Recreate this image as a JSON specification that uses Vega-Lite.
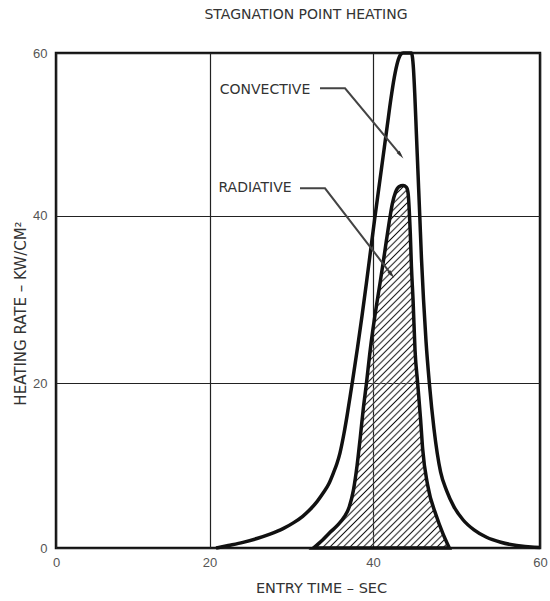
{
  "$schema": "https://vega.github.io/schema/vega-lite/v6.json",
  "autosize": "none",
  "width": 484,
  "height": 495,
  "padding": {"left": 56, "top": 53, "right": 10, "bottom": 53},
  "background": "white",
  "title": {"text": "STAGNATION POINT HEATING", "font": "DejaVu Sans", "fontSize": 14, "fontWeight": "normal", "color": "#333", "offset": 24, "dx": 8, "anchor": "middle"},
  "config": {
    "view": {"stroke": "#111", "strokeWidth": 2.5, "fill": "white"}
  },
  "datasets": {
    "curves": [
      {"series": "convective", "x": 20.8, "y": 0},
      {"series": "convective", "x": 22.3, "y": 0.3},
      {"series": "convective", "x": 24.1, "y": 0.68},
      {"series": "convective", "x": 25.8, "y": 1.15},
      {"series": "convective", "x": 27.4, "y": 1.68},
      {"series": "convective", "x": 29.0, "y": 2.35},
      {"series": "convective", "x": 30.3, "y": 3.08},
      {"series": "convective", "x": 31.4, "y": 3.85},
      {"series": "convective", "x": 32.3, "y": 4.67},
      {"series": "convective", "x": 33.2, "y": 5.7},
      {"series": "convective", "x": 33.9, "y": 6.67},
      {"series": "convective", "x": 34.6, "y": 7.8},
      {"series": "convective", "x": 35.15, "y": 9.1},
      {"series": "convective", "x": 35.6, "y": 10.3},
      {"series": "convective", "x": 35.95, "y": 11.5},
      {"series": "convective", "x": 36.45, "y": 13.9},
      {"series": "convective", "x": 36.85, "y": 16.2},
      {"series": "convective", "x": 37.2, "y": 18.4},
      {"series": "convective", "x": 37.5, "y": 20.3},
      {"series": "convective", "x": 38.1, "y": 24.2},
      {"series": "convective", "x": 38.65, "y": 28},
      {"series": "convective", "x": 39.2, "y": 32},
      {"series": "convective", "x": 39.7, "y": 35.8},
      {"series": "convective", "x": 40.2, "y": 39.6},
      {"series": "convective", "x": 40.7, "y": 43.4},
      {"series": "convective", "x": 41.2, "y": 47.2},
      {"series": "convective", "x": 41.7, "y": 51},
      {"series": "convective", "x": 42.15, "y": 54.4},
      {"series": "convective", "x": 42.55, "y": 57},
      {"series": "convective", "x": 42.95, "y": 58.9},
      {"series": "convective", "x": 43.3, "y": 59.8},
      {"series": "convective", "x": 43.6, "y": 60},
      {"series": "convective", "x": 44.6, "y": 60},
      {"series": "convective", "x": 44.85, "y": 58},
      {"series": "convective", "x": 45.0, "y": 55},
      {"series": "convective", "x": 45.2, "y": 50},
      {"series": "convective", "x": 45.4, "y": 45},
      {"series": "convective", "x": 45.6, "y": 40},
      {"series": "convective", "x": 45.8, "y": 35},
      {"series": "convective", "x": 46.05, "y": 30},
      {"series": "convective", "x": 46.35, "y": 25},
      {"series": "convective", "x": 46.75, "y": 20},
      {"series": "convective", "x": 47.3, "y": 14.5},
      {"series": "convective", "x": 48.1, "y": 9.2},
      {"series": "convective", "x": 48.8, "y": 7},
      {"series": "convective", "x": 49.7, "y": 5},
      {"series": "convective", "x": 50.8, "y": 3.4},
      {"series": "convective", "x": 52.1, "y": 2.2},
      {"series": "convective", "x": 53.6, "y": 1.3},
      {"series": "convective", "x": 55.3, "y": 0.7},
      {"series": "convective", "x": 57.2, "y": 0.3},
      {"series": "convective", "x": 59.3, "y": 0.08},
      {"series": "convective", "x": 60, "y": 0.05},
      {"series": "radiative", "x": 32.7, "y": 0},
      {"series": "radiative", "x": 33.8, "y": 0.95},
      {"series": "radiative", "x": 34.75, "y": 1.9},
      {"series": "radiative", "x": 35.7, "y": 2.8},
      {"series": "radiative", "x": 36.5, "y": 3.8},
      {"series": "radiative", "x": 37.1, "y": 5.0},
      {"series": "radiative", "x": 37.6, "y": 7.0},
      {"series": "radiative", "x": 38.05, "y": 10},
      {"series": "radiative", "x": 38.45, "y": 13.5},
      {"series": "radiative", "x": 38.8, "y": 16.8},
      {"series": "radiative", "x": 39.2, "y": 20},
      {"series": "radiative", "x": 39.6, "y": 23.5},
      {"series": "radiative", "x": 40.0, "y": 26.5},
      {"series": "radiative", "x": 40.45, "y": 29.5},
      {"series": "radiative", "x": 40.85, "y": 32},
      {"series": "radiative", "x": 41.2, "y": 34.3},
      {"series": "radiative", "x": 41.6, "y": 37},
      {"series": "radiative", "x": 41.95, "y": 39.3},
      {"series": "radiative", "x": 42.3, "y": 41.4},
      {"series": "radiative", "x": 42.7, "y": 42.9},
      {"series": "radiative", "x": 43.1, "y": 43.55},
      {"series": "radiative", "x": 43.6, "y": 43.7},
      {"series": "radiative", "x": 44.0, "y": 43.5},
      {"series": "radiative", "x": 44.2, "y": 42.8},
      {"series": "radiative", "x": 44.35, "y": 40.5},
      {"series": "radiative", "x": 44.47, "y": 37.8},
      {"series": "radiative", "x": 44.6, "y": 34},
      {"series": "radiative", "x": 44.8, "y": 29.9},
      {"series": "radiative", "x": 45.03, "y": 24},
      {"series": "radiative", "x": 45.35, "y": 20},
      {"series": "radiative", "x": 45.7, "y": 15.6},
      {"series": "radiative", "x": 45.95, "y": 12},
      {"series": "radiative", "x": 46.55, "y": 7.6},
      {"series": "radiative", "x": 47.55, "y": 4.0},
      {"series": "radiative", "x": 48.35, "y": 1.8},
      {"series": "radiative", "x": 49.14, "y": 0}
    ],
    "leaders": [
      {"grp": "convective", "ord": 1, "x": 33.52, "y": 55.66},
      {"grp": "convective", "ord": 2, "x": 36.58, "y": 55.66},
      {"grp": "convective", "ord": 3, "x": 43.32, "y": 47.44},
      {"grp": "radiative", "ord": 1, "x": 31.07, "y": 43.37},
      {"grp": "radiative", "ord": 2, "x": 34.13, "y": 43.37},
      {"grp": "radiative", "ord": 3, "x": 42.23, "y": 32.95}
    ],
    "arrows": [
      {"grp": "convective", "x": 43.32, "y": 47.44},
      {"grp": "radiative", "x": 42.23, "y": 32.95}
    ],
    "labels": [
      {"label": "CONVECTIVE", "x": 26.79, "y": 55.45},
      {"label": "RADIATIVE", "x": 25.57, "y": 43.37}
    ]
  },
  "encoding": {
    "x": {
      "field": "x", "type": "quantitative",
      "scale": {"domain": [0, 20, 40, 60], "range": [0, 153.5, 317, 484], "nice": false, "zero": false},
      "axis": {
        "values": [0, 20, 40, 60], "grid": true, "gridColor": "#222", "gridWidth": 1.2,
        "domain": false, "ticks": false, "labelFlush": false,
        "labelFont": "Liberation Sans", "labelFontSize": 13, "labelColor": "#555", "labelPadding": 8,
        "title": "ENTRY TIME – SEC", "titleFont": "DejaVu Sans", "titleFontSize": 14.5, "titleFontWeight": "normal",
        "titleColor": "#333", "titleX": 265, "titleY": 40, "titleBaseline": "middle", "titleAlign": "center"
      }
    },
    "y": {
      "field": "y", "type": "quantitative",
      "scale": {"domain": [0, 20, 40, 60], "range": [495, 330.3, 162.7, 0], "nice": false, "zero": false},
      "axis": {
        "values": [0, 20, 40, 60], "grid": true, "gridColor": "#222", "gridWidth": 1.2,
        "domain": false, "ticks": false, "labelFlush": false,
        "labelFont": "Liberation Sans", "labelFontSize": 13, "labelColor": "#555", "labelPadding": 9,
        "title": "HEATING RATE – KW/CM²", "titleFont": "DejaVu Sans", "titleFontSize": 15, "titleFontWeight": "normal",
        "titleColor": "#333", "titleX": -36, "titleY": 260, "titleAngle": 270, "titleBaseline": "middle", "titleAlign": "center"
      }
    }
  },
  "layer": [
    {
      "data": {"name": "curves"},
      "transform": [{"filter": "datum.series == 'radiative'"}],
      "mark": {
        "type": "area", "interpolate": "monotone", "stroke": "#111", "strokeWidth": 3.5,
        "fill": {
          "gradient": "linear", "x1": 0, "y1": 0, "x2": 0.484, "y2": 1.293,
          "stops": [
            {"offset": 0.0035, "color": "rgba(255,255,255,0)"}, {"offset": 0.0075, "color": "#111"}, {"offset": 0.0115, "color": "rgba(255,255,255,0)"},
            {"offset": 0.016, "color": "rgba(255,255,255,0)"}, {"offset": 0.02, "color": "#111"}, {"offset": 0.024, "color": "rgba(255,255,255,0)"},
            {"offset": 0.0285, "color": "rgba(255,255,255,0)"}, {"offset": 0.0325, "color": "#111"}, {"offset": 0.0365, "color": "rgba(255,255,255,0)"},
            {"offset": 0.041, "color": "rgba(255,255,255,0)"}, {"offset": 0.045, "color": "#111"}, {"offset": 0.049, "color": "rgba(255,255,255,0)"},
            {"offset": 0.0535, "color": "rgba(255,255,255,0)"}, {"offset": 0.0575, "color": "#111"}, {"offset": 0.0615, "color": "rgba(255,255,255,0)"},
            {"offset": 0.066, "color": "rgba(255,255,255,0)"}, {"offset": 0.07, "color": "#111"}, {"offset": 0.074, "color": "rgba(255,255,255,0)"},
            {"offset": 0.0785, "color": "rgba(255,255,255,0)"}, {"offset": 0.0825, "color": "#111"}, {"offset": 0.0865, "color": "rgba(255,255,255,0)"},
            {"offset": 0.091, "color": "rgba(255,255,255,0)"}, {"offset": 0.095, "color": "#111"}, {"offset": 0.099, "color": "rgba(255,255,255,0)"},
            {"offset": 0.1035, "color": "rgba(255,255,255,0)"}, {"offset": 0.1075, "color": "#111"}, {"offset": 0.1115, "color": "rgba(255,255,255,0)"},
            {"offset": 0.116, "color": "rgba(255,255,255,0)"}, {"offset": 0.12, "color": "#111"}, {"offset": 0.124, "color": "rgba(255,255,255,0)"},
            {"offset": 0.1285, "color": "rgba(255,255,255,0)"}, {"offset": 0.1325, "color": "#111"}, {"offset": 0.1365, "color": "rgba(255,255,255,0)"},
            {"offset": 0.141, "color": "rgba(255,255,255,0)"}, {"offset": 0.145, "color": "#111"}, {"offset": 0.149, "color": "rgba(255,255,255,0)"},
            {"offset": 0.1535, "color": "rgba(255,255,255,0)"}, {"offset": 0.1575, "color": "#111"}, {"offset": 0.1615, "color": "rgba(255,255,255,0)"},
            {"offset": 0.166, "color": "rgba(255,255,255,0)"}, {"offset": 0.17, "color": "#111"}, {"offset": 0.174, "color": "rgba(255,255,255,0)"},
            {"offset": 0.1785, "color": "rgba(255,255,255,0)"}, {"offset": 0.1825, "color": "#111"}, {"offset": 0.1865, "color": "rgba(255,255,255,0)"},
            {"offset": 0.191, "color": "rgba(255,255,255,0)"}, {"offset": 0.195, "color": "#111"}, {"offset": 0.199, "color": "rgba(255,255,255,0)"},
            {"offset": 0.2035, "color": "rgba(255,255,255,0)"}, {"offset": 0.2075, "color": "#111"}, {"offset": 0.2115, "color": "rgba(255,255,255,0)"},
            {"offset": 0.216, "color": "rgba(255,255,255,0)"}, {"offset": 0.22, "color": "#111"}, {"offset": 0.224, "color": "rgba(255,255,255,0)"},
            {"offset": 0.2285, "color": "rgba(255,255,255,0)"}, {"offset": 0.2325, "color": "#111"}, {"offset": 0.2365, "color": "rgba(255,255,255,0)"},
            {"offset": 0.241, "color": "rgba(255,255,255,0)"}, {"offset": 0.245, "color": "#111"}, {"offset": 0.249, "color": "rgba(255,255,255,0)"},
            {"offset": 0.2535, "color": "rgba(255,255,255,0)"}, {"offset": 0.2575, "color": "#111"}, {"offset": 0.2615, "color": "rgba(255,255,255,0)"},
            {"offset": 0.266, "color": "rgba(255,255,255,0)"}, {"offset": 0.27, "color": "#111"}, {"offset": 0.274, "color": "rgba(255,255,255,0)"},
            {"offset": 0.2785, "color": "rgba(255,255,255,0)"}, {"offset": 0.2825, "color": "#111"}, {"offset": 0.2865, "color": "rgba(255,255,255,0)"},
            {"offset": 0.291, "color": "rgba(255,255,255,0)"}, {"offset": 0.295, "color": "#111"}, {"offset": 0.299, "color": "rgba(255,255,255,0)"},
            {"offset": 0.3035, "color": "rgba(255,255,255,0)"}, {"offset": 0.3075, "color": "#111"}, {"offset": 0.3115, "color": "rgba(255,255,255,0)"},
            {"offset": 0.316, "color": "rgba(255,255,255,0)"}, {"offset": 0.32, "color": "#111"}, {"offset": 0.324, "color": "rgba(255,255,255,0)"},
            {"offset": 0.3285, "color": "rgba(255,255,255,0)"}, {"offset": 0.3325, "color": "#111"}, {"offset": 0.3365, "color": "rgba(255,255,255,0)"},
            {"offset": 0.341, "color": "rgba(255,255,255,0)"}, {"offset": 0.345, "color": "#111"}, {"offset": 0.349, "color": "rgba(255,255,255,0)"},
            {"offset": 0.3535, "color": "rgba(255,255,255,0)"}, {"offset": 0.3575, "color": "#111"}, {"offset": 0.3615, "color": "rgba(255,255,255,0)"},
            {"offset": 0.366, "color": "rgba(255,255,255,0)"}, {"offset": 0.37, "color": "#111"}, {"offset": 0.374, "color": "rgba(255,255,255,0)"},
            {"offset": 0.3785, "color": "rgba(255,255,255,0)"}, {"offset": 0.3825, "color": "#111"}, {"offset": 0.3865, "color": "rgba(255,255,255,0)"},
            {"offset": 0.391, "color": "rgba(255,255,255,0)"}, {"offset": 0.395, "color": "#111"}, {"offset": 0.399, "color": "rgba(255,255,255,0)"},
            {"offset": 0.4035, "color": "rgba(255,255,255,0)"}, {"offset": 0.4075, "color": "#111"}, {"offset": 0.4115, "color": "rgba(255,255,255,0)"},
            {"offset": 0.416, "color": "rgba(255,255,255,0)"}, {"offset": 0.42, "color": "#111"}, {"offset": 0.424, "color": "rgba(255,255,255,0)"},
            {"offset": 0.4285, "color": "rgba(255,255,255,0)"}, {"offset": 0.4325, "color": "#111"}, {"offset": 0.4365, "color": "rgba(255,255,255,0)"},
            {"offset": 0.441, "color": "rgba(255,255,255,0)"}, {"offset": 0.445, "color": "#111"}, {"offset": 0.449, "color": "rgba(255,255,255,0)"},
            {"offset": 0.4535, "color": "rgba(255,255,255,0)"}, {"offset": 0.4575, "color": "#111"}, {"offset": 0.4615, "color": "rgba(255,255,255,0)"},
            {"offset": 0.466, "color": "rgba(255,255,255,0)"}, {"offset": 0.47, "color": "#111"}, {"offset": 0.474, "color": "rgba(255,255,255,0)"},
            {"offset": 0.4785, "color": "rgba(255,255,255,0)"}, {"offset": 0.4825, "color": "#111"}, {"offset": 0.4865, "color": "rgba(255,255,255,0)"},
            {"offset": 0.491, "color": "rgba(255,255,255,0)"}, {"offset": 0.495, "color": "#111"}, {"offset": 0.499, "color": "rgba(255,255,255,0)"},
            {"offset": 0.5035, "color": "rgba(255,255,255,0)"}, {"offset": 0.5075, "color": "#111"}, {"offset": 0.5115, "color": "rgba(255,255,255,0)"},
            {"offset": 0.516, "color": "rgba(255,255,255,0)"}, {"offset": 0.52, "color": "#111"}, {"offset": 0.524, "color": "rgba(255,255,255,0)"},
            {"offset": 0.5285, "color": "rgba(255,255,255,0)"}, {"offset": 0.5325, "color": "#111"}, {"offset": 0.5365, "color": "rgba(255,255,255,0)"},
            {"offset": 0.541, "color": "rgba(255,255,255,0)"}, {"offset": 0.545, "color": "#111"}, {"offset": 0.549, "color": "rgba(255,255,255,0)"},
            {"offset": 0.5535, "color": "rgba(255,255,255,0)"}, {"offset": 0.5575, "color": "#111"}, {"offset": 0.5615, "color": "rgba(255,255,255,0)"},
            {"offset": 0.566, "color": "rgba(255,255,255,0)"}, {"offset": 0.57, "color": "#111"}, {"offset": 0.574, "color": "rgba(255,255,255,0)"},
            {"offset": 0.5785, "color": "rgba(255,255,255,0)"}, {"offset": 0.5825, "color": "#111"}, {"offset": 0.5865, "color": "rgba(255,255,255,0)"},
            {"offset": 0.591, "color": "rgba(255,255,255,0)"}, {"offset": 0.595, "color": "#111"}, {"offset": 0.599, "color": "rgba(255,255,255,0)"},
            {"offset": 0.6035, "color": "rgba(255,255,255,0)"}, {"offset": 0.6075, "color": "#111"}, {"offset": 0.6115, "color": "rgba(255,255,255,0)"},
            {"offset": 0.616, "color": "rgba(255,255,255,0)"}, {"offset": 0.62, "color": "#111"}, {"offset": 0.624, "color": "rgba(255,255,255,0)"},
            {"offset": 0.6285, "color": "rgba(255,255,255,0)"}, {"offset": 0.6325, "color": "#111"}, {"offset": 0.6365, "color": "rgba(255,255,255,0)"},
            {"offset": 0.641, "color": "rgba(255,255,255,0)"}, {"offset": 0.645, "color": "#111"}, {"offset": 0.649, "color": "rgba(255,255,255,0)"},
            {"offset": 0.6535, "color": "rgba(255,255,255,0)"}, {"offset": 0.6575, "color": "#111"}, {"offset": 0.6615, "color": "rgba(255,255,255,0)"},
            {"offset": 0.666, "color": "rgba(255,255,255,0)"}, {"offset": 0.67, "color": "#111"}, {"offset": 0.674, "color": "rgba(255,255,255,0)"},
            {"offset": 0.6785, "color": "rgba(255,255,255,0)"}, {"offset": 0.6825, "color": "#111"}, {"offset": 0.6865, "color": "rgba(255,255,255,0)"},
            {"offset": 0.691, "color": "rgba(255,255,255,0)"}, {"offset": 0.695, "color": "#111"}, {"offset": 0.699, "color": "rgba(255,255,255,0)"},
            {"offset": 0.7035, "color": "rgba(255,255,255,0)"}, {"offset": 0.7075, "color": "#111"}, {"offset": 0.7115, "color": "rgba(255,255,255,0)"},
            {"offset": 0.716, "color": "rgba(255,255,255,0)"}, {"offset": 0.72, "color": "#111"}, {"offset": 0.724, "color": "rgba(255,255,255,0)"},
            {"offset": 0.7285, "color": "rgba(255,255,255,0)"}, {"offset": 0.7325, "color": "#111"}, {"offset": 0.7365, "color": "rgba(255,255,255,0)"},
            {"offset": 0.741, "color": "rgba(255,255,255,0)"}, {"offset": 0.745, "color": "#111"}, {"offset": 0.749, "color": "rgba(255,255,255,0)"},
            {"offset": 0.7535, "color": "rgba(255,255,255,0)"}, {"offset": 0.7575, "color": "#111"}, {"offset": 0.7615, "color": "rgba(255,255,255,0)"},
            {"offset": 0.766, "color": "rgba(255,255,255,0)"}, {"offset": 0.77, "color": "#111"}, {"offset": 0.774, "color": "rgba(255,255,255,0)"},
            {"offset": 0.7785, "color": "rgba(255,255,255,0)"}, {"offset": 0.7825, "color": "#111"}, {"offset": 0.7865, "color": "rgba(255,255,255,0)"},
            {"offset": 0.791, "color": "rgba(255,255,255,0)"}, {"offset": 0.795, "color": "#111"}, {"offset": 0.799, "color": "rgba(255,255,255,0)"},
            {"offset": 0.8035, "color": "rgba(255,255,255,0)"}, {"offset": 0.8075, "color": "#111"}, {"offset": 0.8115, "color": "rgba(255,255,255,0)"},
            {"offset": 0.816, "color": "rgba(255,255,255,0)"}, {"offset": 0.82, "color": "#111"}, {"offset": 0.824, "color": "rgba(255,255,255,0)"},
            {"offset": 0.8285, "color": "rgba(255,255,255,0)"}, {"offset": 0.8325, "color": "#111"}, {"offset": 0.8365, "color": "rgba(255,255,255,0)"},
            {"offset": 0.841, "color": "rgba(255,255,255,0)"}, {"offset": 0.845, "color": "#111"}, {"offset": 0.849, "color": "rgba(255,255,255,0)"},
            {"offset": 0.8535, "color": "rgba(255,255,255,0)"}, {"offset": 0.8575, "color": "#111"}, {"offset": 0.8615, "color": "rgba(255,255,255,0)"},
            {"offset": 0.866, "color": "rgba(255,255,255,0)"}, {"offset": 0.87, "color": "#111"}, {"offset": 0.874, "color": "rgba(255,255,255,0)"},
            {"offset": 0.8785, "color": "rgba(255,255,255,0)"}, {"offset": 0.8825, "color": "#111"}, {"offset": 0.8865, "color": "rgba(255,255,255,0)"},
            {"offset": 0.891, "color": "rgba(255,255,255,0)"}, {"offset": 0.895, "color": "#111"}, {"offset": 0.899, "color": "rgba(255,255,255,0)"},
            {"offset": 0.9035, "color": "rgba(255,255,255,0)"}, {"offset": 0.9075, "color": "#111"}, {"offset": 0.9115, "color": "rgba(255,255,255,0)"},
            {"offset": 0.916, "color": "rgba(255,255,255,0)"}, {"offset": 0.92, "color": "#111"}, {"offset": 0.924, "color": "rgba(255,255,255,0)"},
            {"offset": 0.9285, "color": "rgba(255,255,255,0)"}, {"offset": 0.9325, "color": "#111"}, {"offset": 0.9365, "color": "rgba(255,255,255,0)"},
            {"offset": 0.941, "color": "rgba(255,255,255,0)"}, {"offset": 0.945, "color": "#111"}, {"offset": 0.949, "color": "rgba(255,255,255,0)"},
            {"offset": 0.9535, "color": "rgba(255,255,255,0)"}, {"offset": 0.9575, "color": "#111"}, {"offset": 0.9615, "color": "rgba(255,255,255,0)"},
            {"offset": 0.966, "color": "rgba(255,255,255,0)"}, {"offset": 0.97, "color": "#111"}, {"offset": 0.974, "color": "rgba(255,255,255,0)"},
            {"offset": 0.9785, "color": "rgba(255,255,255,0)"}, {"offset": 0.9825, "color": "#111"}, {"offset": 0.9865, "color": "rgba(255,255,255,0)"},
            {"offset": 0.991, "color": "rgba(255,255,255,0)"}, {"offset": 0.995, "color": "#111"}, {"offset": 0.999, "color": "rgba(255,255,255,0)"}
          ]
        }
      }
    },
    {
      "data": {"name": "curves"},
      "transform": [{"filter": "datum.series == 'convective'"}],
      "mark": {"type": "line", "interpolate": "monotone", "stroke": "#111", "strokeWidth": 3.5}
    },
    {
      "data": {"name": "leaders"},
      "mark": {"type": "line", "stroke": "#444", "strokeWidth": 2},
      "encoding": {
        "detail": {"field": "grp", "type": "nominal"},
        "order": {"field": "ord", "type": "quantitative"}
      }
    },
    {
      "data": {"name": "arrows"},
      "mark": {"type": "point", "shape": "M0,1L-0.45,-1L0.45,-1Z", "filled": true, "fill": "#333", "stroke": null, "size": 70, "angle": 321, "opacity": 1}
    },
    {
      "data": {"name": "labels"},
      "mark": {"type": "text", "font": "DejaVu Sans", "fontSize": 14, "color": "#333", "align": "center", "baseline": "middle"},
      "encoding": {"text": {"field": "label", "type": "nominal"}}
    }
  ]
}
